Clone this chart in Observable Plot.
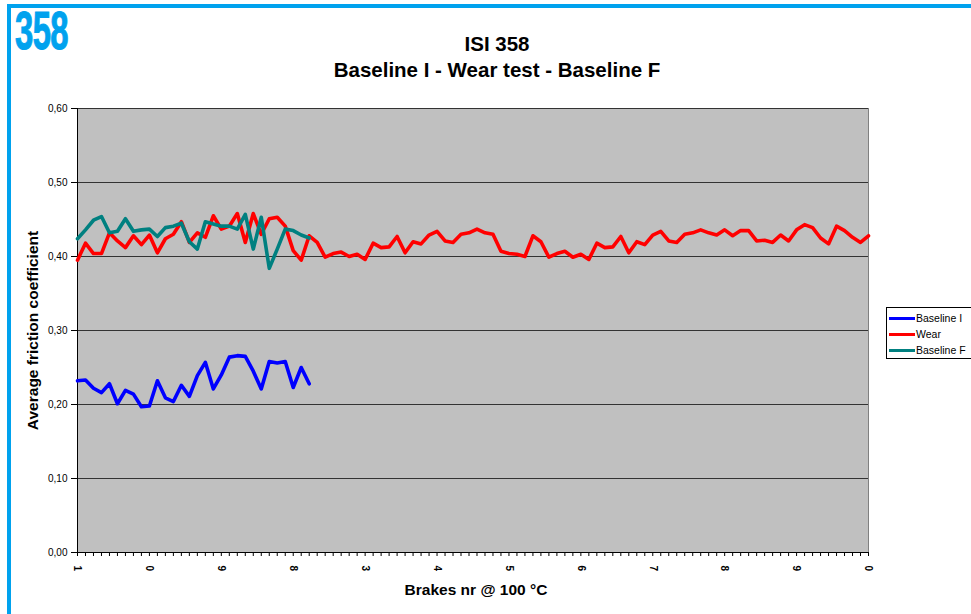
<!DOCTYPE html>
<html><head><meta charset="utf-8">
<script src="https://cdn.jsdelivr.net/npm/d3@7"></script>
<script src="https://cdn.jsdelivr.net/npm/@observablehq/plot@0.6"></script>
<style>
body{margin:0;background:#fff;font-family:"Liberation Sans",Arial,sans-serif;}
#wrap{position:relative;width:971px;height:614px;overflow:hidden;background:#fff;}
#chart{position:absolute;left:0;top:0;}
.bTop{position:absolute;left:7px;top:4px;width:980px;height:4px;background:#00A2EE;}
.bLeft{position:absolute;left:7px;top:4px;width:4px;height:620px;background:#00A2EE;}
#logo{position:absolute;left:15px;top:3px;font-size:53px;font-weight:bold;color:#00A2EE;transform:scaleX(0.62);transform-origin:left top;letter-spacing:-1px;line-height:56px;-webkit-text-stroke:1px #00A2EE;}
.title{position:absolute;left:0;width:994px;text-align:center;font-weight:bold;font-size:20.5px;color:#000;line-height:24px;}
#legend{position:absolute;left:886px;top:307px;width:100px;height:50px;border:1px solid #000;background:#fff;font-size:10.5px;}
.li{position:absolute;left:2px;height:12px;display:flex;align-items:center;}
.li span.sw{display:inline-block;width:26px;height:3px;margin-right:1px;}
</style></head><body>
<div id="wrap">
  <div class="bTop"></div><div class="bLeft"></div>
  <div id="logo">358</div>
  <div class="title" style="top:32px">ISI 358</div>
  <div class="title" style="top:58px">Baseline I - Wear test - Baseline F</div>
  <div id="chart"></div>
  <div id="legend"></div>
</div>
<script>
const seriesNames = ["Baseline I", "Wear", "Baseline F"];
const seriesColors = ["#0000FF", "#FF0000", "#008080"];

const baselineI = [0.232,0.233,0.222,0.216,0.228,0.201,0.219,0.214,0.197,0.198,
  0.232,0.209,0.204,0.226,0.211,0.239,0.257,0.221,0.240,0.264,
  0.266,0.265,0.245,0.221,0.258,0.256,0.258,0.223,0.250,0.228];

const wear = [0.395,0.418,0.404,0.404,0.432,0.421,0.412,0.428,0.416,0.429,
  0.405,0.424,0.430,0.447,0.419,0.432,0.426,0.455,0.437,0.441,
  0.458,0.419,0.458,0.430,0.451,0.453,0.441,0.408,0.395,0.428,
  0.419,0.399,0.404,0.406,0.400,0.403,0.396,0.418,0.412,0.413,
  0.427,0.405,0.420,0.417,0.429,0.434,0.421,0.419,0.430,0.432,
  0.437,0.432,0.430,0.407,0.404,0.403,0.400,0.428,0.420,0.399,
  0.404,0.407,0.399,0.403,0.396,0.418,0.412,0.413,0.427,0.405,
  0.420,0.416,0.429,0.434,0.421,0.419,0.430,0.432,0.436,0.432,
  0.429,0.436,0.428,0.435,0.435,0.421,0.422,0.419,0.429,0.421,
  0.436,0.443,0.439,0.425,0.417,0.441,0.435,0.426,0.419,0.428];

const baselineF = [0.424,0.436,0.449,0.454,0.432,0.434,0.451,0.434,0.436,0.437,
  0.427,0.439,0.441,0.445,0.420,0.410,0.447,0.444,0.441,0.441,
  0.437,0.457,0.410,0.453,0.384,0.410,0.437,0.435,0.429,0.425];

const yTicks = [0, 0.1, 0.2, 0.3, 0.4, 0.5, 0.6];
const xTickPositions = [1, 10, 19, 28, 37, 46, 55, 64, 73, 82, 91, 100];
const xTickLabels = ["1","0","9","8","3","4","5","6","7","8","9","0"];
const yLabel = "Average friction coefficient";
const xLabel = "Brakes nr @ 100 °C";

const allSeries = [baselineI, wear, baselineF];
const rows = [];
allSeries.forEach((arr, s) => arr.forEach((v, i) => rows.push({series: seriesNames[s], brake: i + 1, value: v})));
const labelMap = new Map(xTickPositions.map((p, i) => [p, xTickLabels[i]]));
const allBrakes = d3.range(1, 101);

const chart = Plot.plot({
  width: 971, height: 614,
  marginLeft: 77, marginRight: 103, marginTop: 108, marginBottom: 62,
  style: {fontFamily: "Liberation Sans, Arial, sans-serif", fontSize: "10px", background: "transparent", color: "#000"},
  x: {domain: [1, 100], axis: null},
  y: {domain: [0, 0.6], axis: null},
  color: {domain: seriesNames, range: seriesColors},
  marks: [
    Plot.frame({fill: "#C0C0C0", stroke: "#808080"}),
    Plot.ruleY(yTicks.filter(d => d > 0), {stroke: "#333", strokeWidth: 1}),
    Plot.axisY({ticks: yTicks, tickSize: 6, tickPadding: 4, tickFormat: d => d.toFixed(2).replace(".", ","), label: null, fontSize: 10}),
    Plot.axisX({ticks: allBrakes, tickSize: 4, tickFormat: d => labelMap.get(d) ?? "", tickRotate: 90, tickPadding: 9, label: null, fontSize: 10, fontWeight: "bold"}),
    Plot.ruleY([0], {stroke: "#000"}),
    Plot.ruleX([1], {stroke: "#000"}),
    Plot.line(rows, {x: "brake", y: "value", z: "series", stroke: "series", strokeWidth: 3.6, strokeLinejoin: "round", strokeLinecap: "round"}),
    Plot.text([yLabel], {frameAnchor: "left", textAnchor: "middle", dx: -44, rotate: -90, fontSize: 15.5, fontWeight: "bold", text: d => d}),
    Plot.text([xLabel], {frameAnchor: "bottom", textAnchor: "middle", dy: 42, dx: 3, fontSize: 15.5, fontWeight: "bold", text: d => d})
  ]
});
document.getElementById("chart").appendChild(chart);

const legend = document.getElementById("legend");
seriesNames.forEach((name, i) => {
  const div = document.createElement("div");
  div.className = "li";
  div.style.top = (4 + i * 16) + "px";
  const sw = document.createElement("span");
  sw.className = "sw";
  sw.style.background = seriesColors[i];
  div.appendChild(sw);
  div.appendChild(document.createTextNode(name));
  legend.appendChild(div);
});
</script>
</body></html>
